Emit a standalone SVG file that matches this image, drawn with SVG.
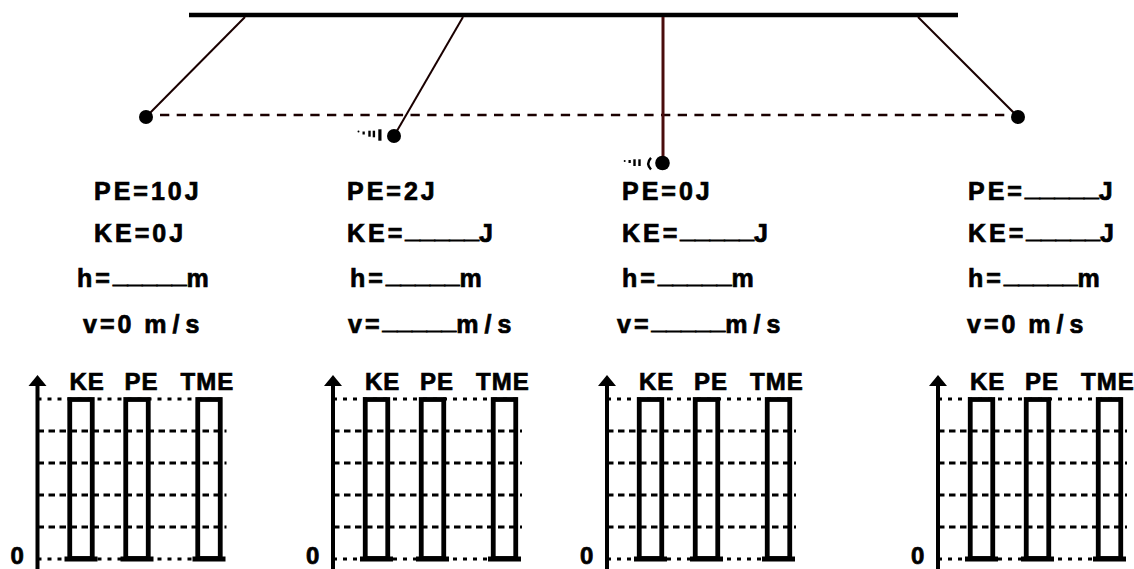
<svg xmlns="http://www.w3.org/2000/svg" width="1134" height="569" viewBox="0 0 1134 569">
<style>
.t{font-family:"Liberation Sans",Arial,sans-serif;font-weight:bold;font-size:25px;letter-spacing:3px;fill:#000;stroke:#000;stroke-width:0.7px}
.u{font-size:26.5px;letter-spacing:0;stroke-width:0.9px}
.ms{letter-spacing:6px}
.zero{letter-spacing:0;font-size:24px}
.lab{font-family:"Liberation Sans",Arial,sans-serif;font-weight:bold;font-size:24px;letter-spacing:1px;fill:#000;stroke:#000;stroke-width:0.7px}
.grid{stroke:#000;stroke-width:3;stroke-dasharray:6.5 4.5;fill:none}
.grid2{stroke:#000;stroke-width:3;stroke-dasharray:4 6;fill:none}
.bar{fill:none;stroke:#000;stroke-width:4.8}
.cap{stroke:#000;stroke-width:5}
.axis{stroke:#000;stroke-width:4}
.str{stroke:#1a0000;stroke-width:2;fill:none}
.ball{fill:#000}
.mk{fill:#000}
</style>

<g id="connectors">
  <line x1="189" y1="15" x2="958" y2="15" stroke="#000" stroke-width="4.6"/>
  <line x1="160" y1="115" x2="1010" y2="115" stroke="#1a0000" stroke-width="2.7" stroke-dasharray="9.3 7.4"/>
  <line class="str" x1="245" y1="17" x2="146" y2="117"/>
  <line class="str" x1="463" y1="17" x2="394" y2="136"/>
  <line x1="663" y1="17" x2="663" y2="163" stroke="#4a0c0c" stroke-width="3"/>
  <line class="str" x1="918" y1="17" x2="1018" y2="117"/>
</g>

<g id="ball1"><circle class="ball" cx="146" cy="117" r="7"/></g>
<g id="ball2">
  <circle class="ball" cx="394" cy="136" r="7"/>
  <circle class="mk" cx="358.5" cy="131.5" r="1"/>
  <rect class="mk" x="362.5" y="131.5" width="2.3" height="3"/>
  <rect class="mk" x="368.3" y="130.7" width="2.4" height="6"/>
  <rect class="mk" x="372.7" y="130.7" width="2.4" height="6.6"/>
  <rect class="mk" x="378.3" y="129.3" width="3.2" height="11.4"/>
</g>
<g id="ball3">
  <circle class="ball" cx="662.5" cy="163" r="7.3"/>
  <circle class="mk" cx="624.7" cy="161" r="1"/>
  <rect class="mk" x="628.5" y="160" width="2.3" height="3"/>
  <rect class="mk" x="633.3" y="159.3" width="2.4" height="6.7"/>
  <rect class="mk" x="638.3" y="159.3" width="2.4" height="6.7"/>
  <path d="M651 157.8 Q645.5 163.5 651 169.5" fill="none" stroke="#000" stroke-width="2.4"/>
</g>
<g id="ball4"><circle class="ball" cx="1018" cy="117" r="7"/></g>

<g id="text1">
  <text class="t" x="94" y="200">PE=10J</text>
  <text class="t" x="94" y="242">KE=0J</text>
  <text class="t" x="77" y="287">h=<tspan class="u" dy="-4.5">_____</tspan><tspan dy="4.5">m</tspan></text>
  <text class="t" x="83" y="333">v=0 <tspan class="ms">m/s</tspan></text>
</g>
<g id="text2">
  <text class="t" x="347" y="200">PE=2J</text>
  <text class="t" x="347" y="242">KE=<tspan class="u" dy="-4.5">_____</tspan><tspan dy="4.5">J</tspan></text>
  <text class="t" x="350" y="287">h=<tspan class="u" dy="-4.5">_____</tspan><tspan dy="4.5">m</tspan></text>
  <text class="t" x="348" y="333">v=<tspan class="u" dy="-4.5">_____</tspan><tspan class="ms" dy="4.5">m/s</tspan></text>
</g>
<g id="text3">
  <text class="t" x="622" y="200">PE=0J</text>
  <text class="t" x="622" y="242">KE=<tspan class="u" dy="-4.5">_____</tspan><tspan dy="4.5">J</tspan></text>
  <text class="t" x="622" y="287">h=<tspan class="u" dy="-4.5">_____</tspan><tspan dy="4.5">m</tspan></text>
  <text class="t" x="617" y="333">v=<tspan class="u" dy="-4.5">_____</tspan><tspan class="ms" dy="4.5">m/s</tspan></text>
</g>
<g id="text4">
  <text class="t" x="968" y="200">PE=<tspan class="u" dy="-4.5">_____</tspan><tspan dy="4.5">J</tspan></text>
  <text class="t" x="968" y="242">KE=<tspan class="u" dy="-4.5">_____</tspan><tspan dy="4.5">J</tspan></text>
  <text class="t" x="968" y="287">h=<tspan class="u" dy="-4.5">_____</tspan><tspan dy="4.5">m</tspan></text>
  <text class="t" x="967" y="333">v=0 <tspan class="ms">m/s</tspan></text>
</g>

<g id="chart1" transform="translate(37.5,0)">
  <line class="grid2" x1="0" y1="399" x2="189" y2="399"/>
  <line class="grid" x1="0" y1="431" x2="189" y2="431"/>
  <line class="grid" x1="0" y1="463" x2="189" y2="463"/>
  <line class="grid" x1="0" y1="495" x2="189" y2="495"/>
  <line class="grid" x1="0" y1="527" x2="189" y2="527"/>
  <line class="grid2" x1="0" y1="559" x2="189" y2="559"/>
  <rect class="bar" x="32.25" y="399.5" width="22.5" height="159"/>
  <rect class="bar" x="88.25" y="399.5" width="22.5" height="159"/>
  <rect class="bar" x="160.25" y="399.5" width="22.5" height="159"/>
  <line class="cap" x1="27" y1="559" x2="60" y2="559"/>
  <line class="cap" x1="83" y1="559" x2="116" y2="559"/>
  <line class="cap" x1="155" y1="559" x2="188" y2="559"/>
  <line class="axis" x1="0" y1="384" x2="0" y2="569"/>
  <polygon points="0,375 9,386 -9,386" fill="#000"/>
  <text class="t zero" x="-27" y="564">0</text>
  <text class="lab" x="32" y="390">KE</text>
  <text class="lab" x="87" y="390">PE</text>
  <text class="lab" x="143" y="390">TME</text>
</g>
<g id="chart2" transform="translate(333,0)">
  <line class="grid2" x1="0" y1="399" x2="189" y2="399"/>
  <line class="grid" x1="0" y1="431" x2="189" y2="431"/>
  <line class="grid" x1="0" y1="463" x2="189" y2="463"/>
  <line class="grid" x1="0" y1="495" x2="189" y2="495"/>
  <line class="grid" x1="0" y1="527" x2="189" y2="527"/>
  <line class="grid2" x1="0" y1="559" x2="189" y2="559"/>
  <rect class="bar" x="32.25" y="399.5" width="22.5" height="159"/>
  <rect class="bar" x="88.25" y="399.5" width="22.5" height="159"/>
  <rect class="bar" x="160.25" y="399.5" width="22.5" height="159"/>
  <line class="cap" x1="27" y1="559" x2="60" y2="559"/>
  <line class="cap" x1="83" y1="559" x2="116" y2="559"/>
  <line class="cap" x1="155" y1="559" x2="188" y2="559"/>
  <line class="axis" x1="0" y1="384" x2="0" y2="569"/>
  <polygon points="0,375 9,386 -9,386" fill="#000"/>
  <text class="t zero" x="-27" y="564">0</text>
  <text class="lab" x="32" y="390">KE</text>
  <text class="lab" x="87" y="390">PE</text>
  <text class="lab" x="143" y="390">TME</text>
</g>
<g id="chart3" transform="translate(607,0)">
  <line class="grid2" x1="0" y1="399" x2="189" y2="399"/>
  <line class="grid" x1="0" y1="431" x2="189" y2="431"/>
  <line class="grid" x1="0" y1="463" x2="189" y2="463"/>
  <line class="grid" x1="0" y1="495" x2="189" y2="495"/>
  <line class="grid" x1="0" y1="527" x2="189" y2="527"/>
  <line class="grid2" x1="0" y1="559" x2="189" y2="559"/>
  <rect class="bar" x="32.25" y="399.5" width="22.5" height="159"/>
  <rect class="bar" x="88.25" y="399.5" width="22.5" height="159"/>
  <rect class="bar" x="160.25" y="399.5" width="22.5" height="159"/>
  <line class="cap" x1="27" y1="559" x2="60" y2="559"/>
  <line class="cap" x1="83" y1="559" x2="116" y2="559"/>
  <line class="cap" x1="155" y1="559" x2="188" y2="559"/>
  <line class="axis" x1="0" y1="384" x2="0" y2="569"/>
  <polygon points="0,375 9,386 -9,386" fill="#000"/>
  <text class="t zero" x="-27" y="564">0</text>
  <text class="lab" x="32" y="390">KE</text>
  <text class="lab" x="87" y="390">PE</text>
  <text class="lab" x="143" y="390">TME</text>
</g>
<g id="chart4" transform="translate(938,0)">
  <line class="grid2" x1="0" y1="399" x2="189" y2="399"/>
  <line class="grid" x1="0" y1="431" x2="189" y2="431"/>
  <line class="grid" x1="0" y1="463" x2="189" y2="463"/>
  <line class="grid" x1="0" y1="495" x2="189" y2="495"/>
  <line class="grid" x1="0" y1="527" x2="189" y2="527"/>
  <line class="grid2" x1="0" y1="559" x2="189" y2="559"/>
  <rect class="bar" x="32.25" y="399.5" width="22.5" height="159"/>
  <rect class="bar" x="88.25" y="399.5" width="22.5" height="159"/>
  <rect class="bar" x="160.25" y="399.5" width="22.5" height="159"/>
  <line class="cap" x1="27" y1="559" x2="60" y2="559"/>
  <line class="cap" x1="83" y1="559" x2="116" y2="559"/>
  <line class="cap" x1="155" y1="559" x2="188" y2="559"/>
  <line class="axis" x1="0" y1="384" x2="0" y2="569"/>
  <polygon points="0,375 9,386 -9,386" fill="#000"/>
  <text class="t zero" x="-27" y="564">0</text>
  <text class="lab" x="32" y="390">KE</text>
  <text class="lab" x="87" y="390">PE</text>
  <text class="lab" x="143" y="390">TME</text>
</g>
</svg>
